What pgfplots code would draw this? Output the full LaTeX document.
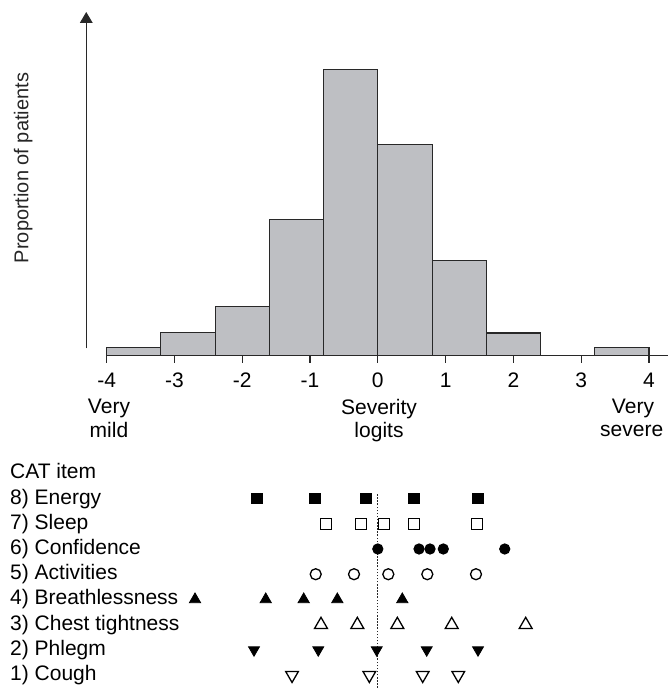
\documentclass[border=0pt]{standalone}
\usepackage{pgfplots}
\pgfplotsset{compat=1.18}
\usepackage{fontspec}
\setmainfont{Liberation Sans}
\usetikzlibrary{arrows.meta}
\definecolor{histgray}{RGB}{190,191,195}
\definecolor{axisgray}{RGB}{40,40,40}
\newcommand{\lbl}{\fontsize{21}{25}\selectfont}
\begin{document}
\lbl
\begin{tikzpicture}
\useasboundingbox (0pt,0pt) rectangle (668pt,-688pt);
% ---------- histogram ----------
\begin{axis}[
  at={(106.6pt,-355.7pt)}, anchor=south west,
  scale only axis, width=561.4pt, height=344.9pt,
  xmin=-4, xmax=4.28, ymin=0, ymax=0.41,
  axis x line*=bottom, hide y axis,
  xtick={-4,-3,-2,-1,0,1,2,3,4},
  xticklabels={-4,-3,-2,-1,0,1,2,3,4},
  tick align=outside, major tick length=7pt,
  tick style={axisgray, line width=1.1pt},
  axis line style={axisgray, line width=1.1pt},
  xticklabel style={anchor=base, yshift=-24.3pt, font=\lbl},
  clip=false,
]
\addplot[ybar interval, fill=histgray, draw=axisgray, line width=1.1pt] coordinates {
  (-4.0,0.010) (-3.2,0.028) (-2.4,0.059) (-1.6,0.162) (-0.8,0.340)
  (0.0,0.251) (0.8,0.113) (1.6,0.027) (2.4,0.000) (3.2,0.010) (4.0,0.010)};
\draw[axisgray, line width=1.2pt, -{Triangle[width=12.7pt,length=11pt]}]
  (axis cs:-4.3,0.0087) -- (axis cs:-4.3,0.4086);
\end{axis}
% ---------- CAT item thresholds ----------
\begin{axis}[
  at={(106.6pt,-687.8pt)}, anchor=south west,
  scale only axis, width=561.4pt, height=227.16pt,
  xmin=-4, xmax=4.28, ymin=0.5, ymax=9.5,
  axis line style={draw=none}, xtick=\empty,
  ytick={1,2,3,4,5,6,7,8,9},
  yticklabels={1) Cough,2) Phlegm,3) Chest tightness,4) Breathlessness,5) Activities,6) Confidence,7) Sleep,8) Energy,CAT item},
  major tick length=0pt, ytick style={draw=none},
  yticklabel style={anchor=base west, inner sep=0pt, xshift=-96.6pt, yshift=-5.5pt, font=\lbl},
  clip=false,
]
\addplot[axisgray, line width=1.2pt, dash pattern=on 1.5pt off 1.6pt] coordinates {(0,0.5) (0,8.23)};
% 8) Energy
\addplot[only marks, mark=square*, mark size=5.3pt, mark options={black, fill=black, line width=1pt}]
  coordinates {(-1.786,8) (-0.926,8) (-0.178,8) (0.538,8) (1.482,8)};
% 7) Sleep
\addplot[only marks, mark=square, mark size=5.5pt, mark options={black, line width=1.3pt}]
  coordinates {(-0.764,7) (-0.243,7) (0.091,7) (0.538,7) (1.463,7)};
% 6) Confidence
\addplot[only marks, mark=*, mark size=5.1pt, mark options={black, fill=black, line width=1pt}]
  coordinates {(0.0,6) (0.608,6) (0.770,6) (0.966,6) (1.872,6)};
% 5) Activities
\addplot[only marks, mark=o, mark size=5.5pt, mark options={black, line width=1.3pt}]
  coordinates {(-0.916,5) (-0.351,5) (0.155,5) (0.730,5) (1.448,5)};
% 4) Breathlessness
\addplot[only marks, mark=triangle*, mark size=6.5pt, mark options={black, fill=black, line width=0.8pt}]
  coordinates {(-2.696,4) (-1.653,4) (-1.093,4) (-0.597,4) (0.361,4)};
% 3) Chest tightness
\addplot[only marks, mark=triangle, mark size=7.4pt, mark options={black, line width=1.3pt}]
  coordinates {(-0.838,3) (-0.302,3) (0.288,3) (1.090,3) (2.181,3)};
% 2) Phlegm
\addplot[only marks, mark=triangle*, mark size=6.3pt, mark options={black, fill=black, line width=0.8pt, rotate=180}]
  coordinates {(-1.826,2) (-0.878,2) (-0.016,2) (0.721,2) (1.478,2)};
% 1) Cough
\addplot[only marks, mark=triangle, mark size=7.3pt, mark options={black, line width=1.3pt, rotate=180}]
  coordinates {(-1.265,1) (-0.125,1) (0.662,1) (1.187,1)};
\end{axis}
% ---------- texts ----------
\node[anchor=base, rotate=90, font=\fontsize{20}{24}\selectfont, text=black!85] at (28.3pt,-168pt) {Proportion of patients};
\node[anchor=base, font=\lbl] at (109pt,-413.5pt) {Very};
\node[anchor=base, font=\lbl] at (109pt,-437.5pt) {mild};
\node[anchor=base, font=\lbl] at (379pt,-414.5pt) {Severity};
\node[anchor=base, font=\lbl] at (379pt,-437.5pt) {logits};
\node[anchor=base, font=\lbl] at (633pt,-413.5pt) {Very};
\node[anchor=base, font=\lbl] at (631.7pt,-436.5pt) {severe};
\end{tikzpicture}
\end{document}
